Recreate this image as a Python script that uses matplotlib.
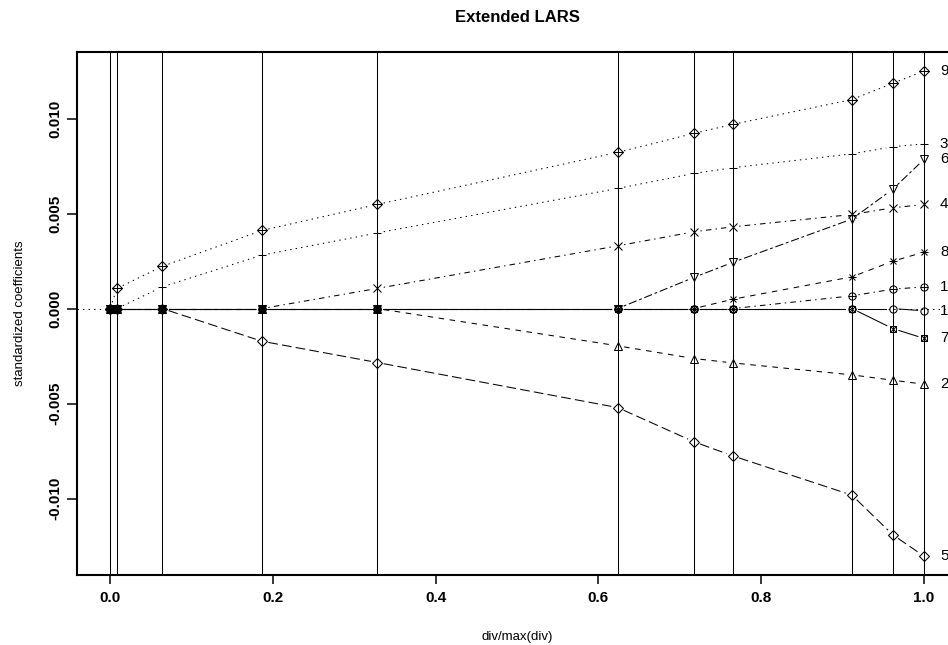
import numpy as np
import matplotlib.pyplot as plt

plt.rcParams['font.family'] = ['Liberation Sans', 'DejaVu Sans']
plt.rcParams['lines.scale_dashes'] = False

# path steps (div/max(div)) and coefficient paths for the 10 variables
steps = [0.0, 0.0086, 0.0643, 0.1867, 0.3284, 0.6237, 0.7174, 0.7650, 0.9115, 0.9615, 1.0]
var1 = [0, 0, 0, 0, 0, 0, 0, 0, 0, 0, -0.00012]
var2 = [0, 0, 0, 0, 0, -0.00196, -0.00263, -0.00286, -0.00349, -0.00377, -0.00398]
var3 = [0, 0, 0.00114, 0.00281, 0.00398, 0.00632, 0.00711, 0.00741, 0.00814, 0.00851, 0.00867]
var4 = [0, 0, 0, 0, 0.00106, 0.0033, 0.00404, 0.0043, 0.00495, 0.0053, 0.00548]
var5 = [0, 0, 0, -0.00172, -0.00284, -0.00521, -0.00701, -0.00775, -0.00982, -0.0119, -0.01303]
var6 = [0, 0, 0, 0, 0, 0, 0.00164, 0.00243, 0.00471, 0.00628, 0.00785]
var7 = [0, 0, 0, 0, 0, 0, 0, 0, 0, -0.00105, -0.00157]
var8 = [0, 0, 0, 0, 0, 0, 0, 0.00049, 0.00167, 0.00249, 0.00297]
var9 = [0, 0.00106, 0.00222, 0.00411, 0.00548, 0.00822, 0.00922, 0.00969, 0.0110, 0.01185, 0.0125]
var10 = [0, 0, 0, 0, 0, 0, 0, 0, 0.00067, 0.00102, 0.00114]
names = ['1', '2', '3', '4', '5', '6', '7', '8', '9', '10']
paths = [var1, var2, var3, var4, var5, var6, var7, var8, var9, var10]

# R-like lty 1..6 and pch 1..10
ltys = ['-', (0, (4, 4)), (0, (1, 3)), (0, (1, 3, 4, 3)), (0, (7, 3)), (0, (2, 2, 6, 2))]
pchs = [[('o', 5.2)], [('^', 5.8)], [('+', 6.0)], [('x', 5.2)], [('D', 4.8)],
        [('v', 5.8)], [('s', 4.6), ('x', 4.6)], [('+', 6.0), ('x', 5.0)],
        [('D', 4.8), ('+', 6.6)], [('o', 5.2), ('+', 5.2)]]

W, H = 948, 645
fig = plt.figure(figsize=(W / 100, H / 100), dpi=100)
ax = fig.add_axes([77.4 / W, 1 - 575 / H, (956.6 - 77.4) / W, 523 / H])
ax.set_xlim(-0.04, 1.04)
ax.set_ylim(-0.01402, 0.0135)

lw = 0.75
for s in steps:
    ax.axvline(s, color='black', lw=lw, zorder=1)
ax.axhline(0, color='black', lw=lw, ls=(0, (1, 3)), zorder=1)


def gapped(xs, ys, gap, **kw):
    pts = ax.transData.transform(np.column_stack([xs, ys]))
    inv = ax.transData.inverted()
    for p0, p1 in zip(pts[:-1], pts[1:]):
        d = p1 - p0
        L = np.hypot(*d)
        if L <= 2 * gap:
            continue
        u = d / L
        a = inv.transform(p0 + u * gap)
        b = inv.transform(p1 - u * gap)
        ax.plot([a[0], b[0]], [a[1], b[1]], **kw)


for i, ys in enumerate(paths):
    gapped(steps, ys, 6.5, color='black', lw=lw, ls=ltys[i % 6], zorder=2)
    for m, ms in pchs[i]:
        ax.plot(steps, ys, ls='none', marker=m, ms=ms, mfc='none', mec='black',
                mew=lw, zorder=3)
    ax.text(0.981, ys[-1], names[i], transform=ax.get_yaxis_transform(),
            ha='left', va='center', fontsize=11)

for sp in ax.spines.values():
    sp.set_linewidth(1.5)

ax.set_xticks([0.0, 0.2, 0.4, 0.6, 0.8, 1.0])
ax.set_xticklabels(['0.0', '0.2', '0.4', '0.6', '0.8', '1.0'], fontweight='bold', fontsize=11)
ax.set_yticks([-0.01, -0.005, 0.0, 0.005, 0.01])
ax.set_yticklabels(['-0.010', '-0.005', '0.000', '0.005', '0.010'], fontweight='bold',
                   fontsize=11, rotation=90, va='center')
ax.tick_params(axis='x', length=6.5, width=1.1, pad=5)
ax.tick_params(axis='y', length=7, width=1.1, pad=4)

fig.text(517 / W, 1 - 17 / H, 'Extended LARS', ha='center', va='center',
         fontsize=12, fontweight='bold')
fig.text(517 / W, 1 - 637 / H, 'div/max(div)', ha='center', va='center', fontsize=9.5)
fig.text(20 / W, 1 - 313 / H, 'standardized coefficients', ha='center', va='center',
         fontsize=9.5, rotation=90)

fig.savefig('out.png', dpi=100)
